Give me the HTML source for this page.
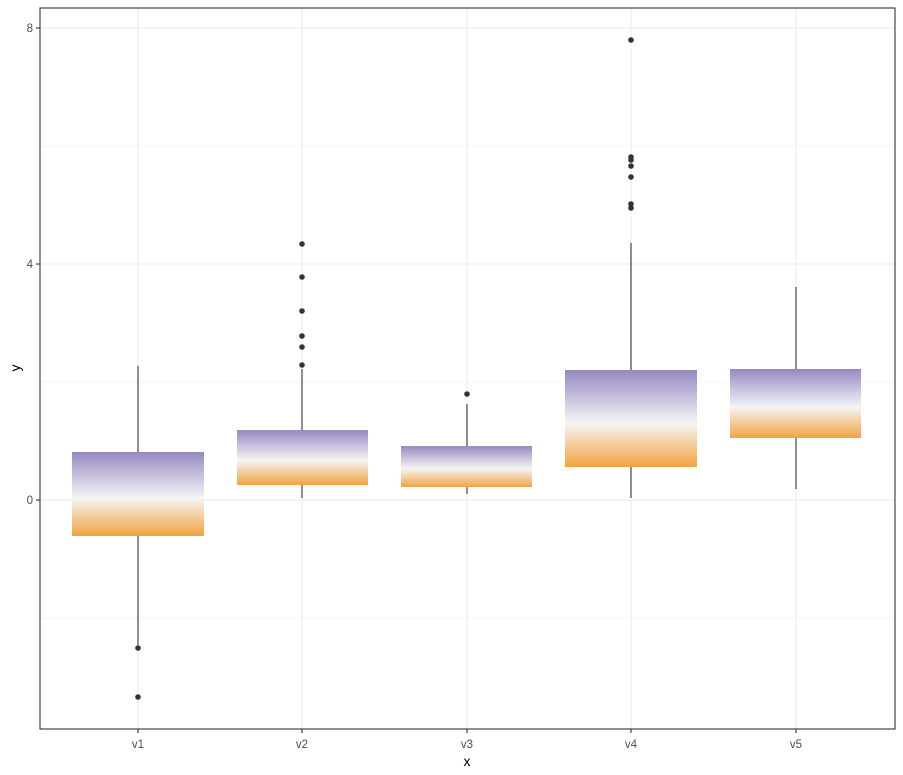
<!DOCTYPE html><html><head><meta charset="utf-8"><style>body{margin:0;background:#fff}svg{display:block;font-family:"Liberation Sans",sans-serif}</style></head><body>
<svg width="903" height="775" viewBox="0 0 903 775">
<defs><linearGradient id="g" x1="0" y1="0" x2="0" y2="1"><stop offset="0" stop-color="#9689C2"/><stop offset="0.55" stop-color="#F5F5F5"/><stop offset="1" stop-color="#F1A340"/></linearGradient></defs>
<g stroke="#ebebeb" stroke-width="1.1">
<line x1="40" x2="895" y1="146" y2="146" stroke-width="0.6"/><line x1="40" x2="895" y1="382" y2="382" stroke-width="0.6"/><line x1="40" x2="895" y1="618" y2="618" stroke-width="0.6"/>
<line x1="40" x2="895" y1="28" y2="28"/><line x1="40" x2="895" y1="264" y2="264"/><line x1="40" x2="895" y1="500" y2="500"/>
<line x1="138" x2="138" y1="8" y2="729"/><line x1="302" x2="302" y1="8" y2="729"/><line x1="467" x2="467" y1="8" y2="729"/><line x1="631" x2="631" y1="8" y2="729"/><line x1="796" x2="796" y1="8" y2="729"/>
</g>
<g stroke="#333" stroke-width="1.1">
<line x1="138" x2="138" y1="366" y2="645"/><line x1="302" x2="302" y1="369" y2="498"/><line x1="467" x2="467" y1="404" y2="494"/><line x1="631" x2="631" y1="243" y2="498"/><line x1="796" x2="796" y1="287" y2="489"/>
</g>
<rect x="72" y="452" width="132" height="84" fill="url(#g)"/>
<rect x="237" y="430" width="131" height="55" fill="url(#g)"/>
<rect x="401" y="446" width="131" height="41" fill="url(#g)"/>
<rect x="565" y="370" width="132" height="97" fill="url(#g)"/>
<rect x="730" y="369" width="131" height="69" fill="url(#g)"/>
<g fill="#333">
<circle cx="138" cy="648" r="2.8"/><circle cx="138" cy="697" r="2.8"/>
<circle cx="302" cy="244" r="2.8"/><circle cx="302" cy="277" r="2.8"/><circle cx="302" cy="311" r="2.8"/><circle cx="302" cy="336" r="2.8"/><circle cx="302" cy="347" r="2.8"/><circle cx="302" cy="365" r="2.8"/>
<circle cx="467" cy="394" r="2.8"/>
<circle cx="631" cy="40" r="2.8"/><circle cx="631" cy="157" r="2.8"/><circle cx="631" cy="160" r="2.8"/><circle cx="631" cy="166" r="2.8"/><circle cx="631" cy="177" r="2.8"/><circle cx="631" cy="204" r="2.8"/><circle cx="631" cy="208" r="2.8"/>
</g>
<rect x="40" y="8" width="855" height="721" fill="none" stroke="#333" stroke-width="1.1"/>
<g stroke="#333" stroke-width="1.1"><line x1="36" x2="40" y1="28" y2="28"/><line x1="36" x2="40" y1="264" y2="264"/><line x1="36" x2="40" y1="500" y2="500"/>
<line x1="138" x2="138" y1="729" y2="733"/><line x1="302" x2="302" y1="729" y2="733"/><line x1="467" x2="467" y1="729" y2="733"/><line x1="631" x2="631" y1="729" y2="733"/><line x1="796" x2="796" y1="729" y2="733"/></g>
<g fill="#4d4d4d" font-size="11.5" text-anchor="end"><text x="33" y="32">8</text><text x="33" y="268">4</text><text x="33" y="504">0</text></g>
<g fill="#4d4d4d" font-size="11.5" text-anchor="middle"><text x="138" y="748">v1</text><text x="302" y="748">v2</text><text x="467" y="748">v3</text><text x="631" y="748">v4</text><text x="796" y="748">v5</text></g>
<text x="467" y="766" font-size="14" text-anchor="middle" fill="#000">x</text>
<text x="20" y="368" font-size="14" text-anchor="middle" fill="#000" transform="rotate(-90 20 368)">y</text>
</svg></body></html>
